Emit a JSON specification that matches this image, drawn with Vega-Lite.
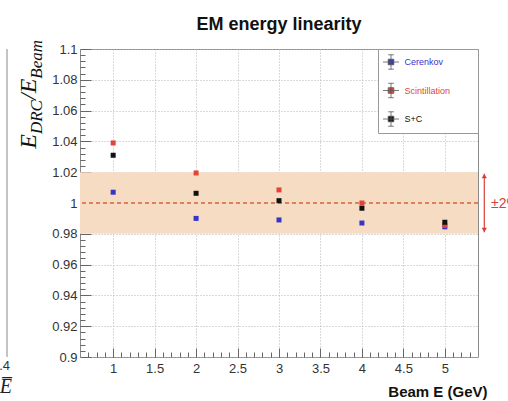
{
  "$schema": "https://vega.github.io/schema/vega-lite/v6.json",
  "width": 398,
  "height": 308,
  "autosize": {"type": "none"},
  "padding": {"left": 80, "top": 49, "right": 30, "bottom": 44},
  "background": "white",
  "title": {"text": "EM energy linearity", "frame": "group", "font": "Liberation Sans", "fontSize": 18, "fontWeight": "bold", "color": "#111111", "anchor": "middle", "offset": -8, "baseline": "alphabetic"},
  "config": {
    "view": {"stroke": "#8a8a8a", "strokeWidth": 1},
    "axis": {"domain": false, "labelFont": "Liberation Sans", "labelFontSize": 13, "labelColor": "#333333", "tickColor": "#666666"},
    "legend": {"titleColor": "#ffffff"}
  },
  "resolve": {"axis": {"x": "independent", "y": "independent"}},
  "layer": [
    {
      "data": {"values": [{"lo": 0.98, "hi": 1.02}]},
      "mark": {"type": "rect", "fill": "#f7dcc4"},
      "encoding": {
        "x": {"datum": 0.6, "type": "quantitative", "scale": {"domain": [0.6, 5.4], "nice": false, "zero": false},
          "axis": {"orient": "bottom", "values": [0.7,0.8,0.9,1,1.1,1.2,1.3,1.4,1.5,1.6,1.7,1.8,1.9,2,2.1,2.2,2.3,2.4,2.5,2.6,2.7,2.8,2.9,3,3.1,3.2,3.3,3.4,3.5,3.6,3.7,3.8,3.9,4,4.1,4.2,4.3,4.4,4.5,4.6,4.7,4.8,4.9,5,5.1,5.2,5.3], "labels": false, "grid": false, "tickSize": -5, "title": null}},
        "x2": {"datum": 5.4},
        "y": {"field": "lo", "type": "quantitative", "scale": {"domain": [0.9, 1.1], "nice": false, "zero": false},
          "axis": {"orient": "left", "values": [0.904,0.908,0.912,0.916,0.92,0.924,0.928,0.932,0.936,0.94,0.944,0.948,0.952,0.956,0.96,0.964,0.968,0.972,0.976,0.98,0.984,0.988,0.992,0.996,1,1.004,1.008,1.012,1.016,1.02,1.024,1.028,1.032,1.036,1.04,1.044,1.048,1.052,1.056,1.06,1.064,1.068,1.072,1.076,1.08,1.084,1.088,1.092,1.096], "labels": false, "grid": false, "tickSize": -5, "title": null}},
        "y2": {"field": "hi"}
      }
    },
    {
      "data": {"values": [{}]},
      "mark": {"type": "rule", "color": "#d9603b", "strokeWidth": 1.5, "strokeDash": [4, 3]},
      "encoding": {
        "y": {"datum": 1, "type": "quantitative", "scale": {"domain": [0.9, 1.1], "nice": false, "zero": false}, "axis": null}
      }
    },
    {
      "data": {"values": [
        {"E": 1, "ratio": 1.007, "series": "Cerenkov"},
        {"E": 2, "ratio": 0.990, "series": "Cerenkov"},
        {"E": 3, "ratio": 0.989, "series": "Cerenkov"},
        {"E": 4, "ratio": 0.987, "series": "Cerenkov"},
        {"E": 5, "ratio": 0.9845, "series": "Cerenkov"},
        {"E": 1, "ratio": 1.039, "series": "Scintillation"},
        {"E": 2, "ratio": 1.0195, "series": "Scintillation"},
        {"E": 3, "ratio": 1.0085, "series": "Scintillation"},
        {"E": 4, "ratio": 1.0, "series": "Scintillation"},
        {"E": 5, "ratio": 0.9855, "series": "Scintillation"},
        {"E": 1, "ratio": 1.031, "series": "S+C"},
        {"E": 2, "ratio": 1.0063, "series": "S+C"},
        {"E": 3, "ratio": 1.0015, "series": "S+C"},
        {"E": 4, "ratio": 0.9966, "series": "S+C"},
        {"E": 5, "ratio": 0.9875, "series": "S+C"}
      ]},
      "mark": {"type": "point", "shape": "square", "filled": true, "size": 25, "opacity": 1},
      "encoding": {
        "x": {"field": "E", "type": "quantitative", "scale": {"domain": [0.6, 5.4], "nice": false, "zero": false},
          "axis": {"orient": "bottom", "values": [1,1.5,2,2.5,3,3.5,4,4.5,5], "format": "~g", "grid": true, "gridColor": "#b5b5b5", "gridDash": [1, 2], "tickSize": -9, "labelPadding": 14,
            "title": "Beam E (GeV)", "titleFont": "Liberation Sans", "titleFontSize": 15, "titleFontWeight": "bold", "titleColor": "#111111", "titleAnchor": "end", "titleAlign": "right", "titleBaseline": "alphabetic", "titleX": 407, "titleY": 39}},
        "y": {"field": "ratio", "type": "quantitative", "scale": {"domain": [0.9, 1.1], "nice": false, "zero": false},
          "axis": {"orient": "left", "values": [0.9,0.92,0.94,0.96,0.98,1,1.02,1.04,1.06,1.08,1.1], "format": "~g", "grid": true, "gridColor": "#b5b5b5", "gridDash": [1, 2], "tickSize": -11, "labelPadding": 14, "title": null}},
        "color": {"field": "series", "type": "nominal",
          "scale": {"domain": ["Cerenkov", "Scintillation", "S+C"], "range": ["#3535c8", "#e0453a", "#111111"]},
          "legend": {"orient": "none", "legendX": 298, "legendY": 0, "direction": "vertical",
            "title": "MM", "titleOrient": "right", "titlePadding": 8, "titleFontSize": 9,
            "symbolType": "M-1,0H1M0,-0.9V0.9M-0.35,-0.9H0.35M-0.35,0.9H0.35M-0.35,-0.35H0.35V0.35H-0.35Z",
            "symbolSize": 256, "symbolStrokeWidth": 0.8, "symbolStrokeColor": "#555555", "labelFont": "Liberation Sans", "labelFontSize": 9, "labelOffset": 5,
            "labelColor": {"expr": "datum.value === 'Cerenkov' ? '#3535c8' : datum.value === 'Scintillation' ? '#e0453a' : '#111111'"},
            "rowPadding": 9.5, "padding": 4.5, "fillColor": "white", "strokeColor": "#999999"}}
      }
    },
    {
      "data": {"values": [{}]},
      "mark": {"type": "rule", "color": "#d9403a", "strokeWidth": 1.2},
      "encoding": {
        "x": {"datum": 5.476, "type": "quantitative", "scale": {"domain": [0.6, 5.4], "nice": false, "zero": false}, "axis": null},
        "y": {"datum": 0.981, "type": "quantitative", "scale": {"domain": [0.9, 1.1], "nice": false, "zero": false}, "axis": null},
        "y2": {"datum": 1.019}
      }
    },
    {
      "data": {"values": [{}]},
      "mark": {"type": "point", "shape": "triangle-up", "filled": true, "size": 28, "color": "#d9403a", "opacity": 1},
      "encoding": {
        "x": {"datum": 5.476, "type": "quantitative", "scale": {"domain": [0.6, 5.4], "nice": false, "zero": false}, "axis": null},
        "y": {"datum": 1.0175, "type": "quantitative", "scale": {"domain": [0.9, 1.1], "nice": false, "zero": false}, "axis": null}
      }
    },
    {
      "data": {"values": [{}]},
      "mark": {"type": "point", "shape": "triangle-down", "filled": true, "size": 28, "color": "#d9403a", "opacity": 1},
      "encoding": {
        "x": {"datum": 5.476, "type": "quantitative", "scale": {"domain": [0.6, 5.4], "nice": false, "zero": false}, "axis": null},
        "y": {"datum": 0.9825, "type": "quantitative", "scale": {"domain": [0.9, 1.1], "nice": false, "zero": false}, "axis": null}
      }
    },
    {
      "data": {"values": [{}]},
      "mark": {"type": "text", "text": "±2%", "align": "left", "baseline": "middle", "font": "Liberation Sans", "fontSize": 14, "color": "#d9403a"},
      "encoding": {
        "x": {"datum": 5.557, "type": "quantitative", "scale": {"domain": [0.6, 5.4], "nice": false, "zero": false}, "axis": null},
        "y": {"datum": 0.9995, "type": "quantitative", "scale": {"domain": [0.9, 1.1], "nice": false, "zero": false}, "axis": null}
      }
    },
    {
      "data": {"values": [{}]},
      "mark": {"type": "rule", "color": "#8a8a8a", "strokeWidth": 1},
      "encoding": {
        "x": {"datum": -0.2804, "type": "quantitative", "scale": {"domain": [0.6, 5.4], "nice": false, "zero": false}, "axis": null},
        "y": {"datum": 0.9, "type": "quantitative", "scale": {"domain": [0.9, 1.1], "nice": false, "zero": false}, "axis": null},
        "y2": {"datum": 1.1}
      }
    },
    {
      "data": {"values": [{}]},
      "mark": {"type": "text", "text": "0.4", "align": "right", "baseline": "middle", "font": "Liberation Sans", "fontSize": 13, "color": "#333333"},
      "encoding": {
        "x": {"datum": -0.2442, "type": "quantitative", "scale": {"domain": [0.6, 5.4], "nice": false, "zero": false}, "axis": null},
        "y": {"datum": 0.89416, "type": "quantitative", "scale": {"domain": [0.9, 1.1], "nice": false, "zero": false}, "axis": null}
      }
    },
    {
      "data": {"values": [{}]},
      "mark": {"type": "text", "text": "√E̅", "align": "right", "baseline": "middle", "font": "Liberation Serif", "fontStyle": "italic", "fontSize": 20, "color": "#222222"},
      "encoding": {
        "x": {"datum": -0.2201, "type": "quantitative", "scale": {"domain": [0.6, 5.4], "nice": false, "zero": false}, "axis": null},
        "y": {"datum": 0.88052, "type": "quantitative", "scale": {"domain": [0.9, 1.1], "nice": false, "zero": false}, "axis": null}
      }
    },
    {
      "data": {"values": [{}]},
      "mark": {"type": "text", "text": "Beam", "angle": 270, "align": "right", "baseline": "alphabetic", "font": "Liberation Serif", "fontStyle": "italic", "fontSize": 17, "color": "#111111"},
      "encoding": {
        "x": {"datum": 0.1417, "type": "quantitative", "scale": {"domain": [0.6, 5.4], "nice": false, "zero": false}, "axis": null},
        "y": {"datum": 1.10584, "type": "quantitative", "scale": {"domain": [0.9, 1.1], "nice": false, "zero": false}, "axis": null}
      }
    },
    {
      "data": {"values": [{}]},
      "mark": {"type": "text", "text": "/E", "angle": 270, "align": "right", "baseline": "alphabetic", "font": "Liberation Serif", "fontStyle": "italic", "fontSize": 24, "color": "#111111"},
      "encoding": {
        "x": {"datum": 0.0694, "type": "quantitative", "scale": {"domain": [0.6, 5.4], "nice": false, "zero": false}, "axis": null},
        "y": {"datum": 1.08071, "type": "quantitative", "scale": {"domain": [0.9, 1.1], "nice": false, "zero": false}, "axis": null}
      }
    },
    {
      "data": {"values": [{}]},
      "mark": {"type": "text", "text": "DRC", "angle": 270, "align": "right", "baseline": "alphabetic", "font": "Liberation Serif", "fontStyle": "italic", "fontSize": 17, "color": "#111111"},
      "encoding": {
        "x": {"datum": 0.1417, "type": "quantitative", "scale": {"domain": [0.6, 5.4], "nice": false, "zero": false}, "axis": null},
        "y": {"datum": 1.06682, "type": "quantitative", "scale": {"domain": [0.9, 1.1], "nice": false, "zero": false}, "axis": null}
      }
    },
    {
      "data": {"values": [{}]},
      "mark": {"type": "text", "text": "E", "angle": 270, "align": "right", "baseline": "alphabetic", "font": "Liberation Serif", "fontStyle": "italic", "fontSize": 24, "color": "#111111"},
      "encoding": {
        "x": {"datum": 0.0694, "type": "quantitative", "scale": {"domain": [0.6, 5.4], "nice": false, "zero": false}, "axis": null},
        "y": {"datum": 1.04474, "type": "quantitative", "scale": {"domain": [0.9, 1.1], "nice": false, "zero": false}, "axis": null}
      }
    }
  ]
}
